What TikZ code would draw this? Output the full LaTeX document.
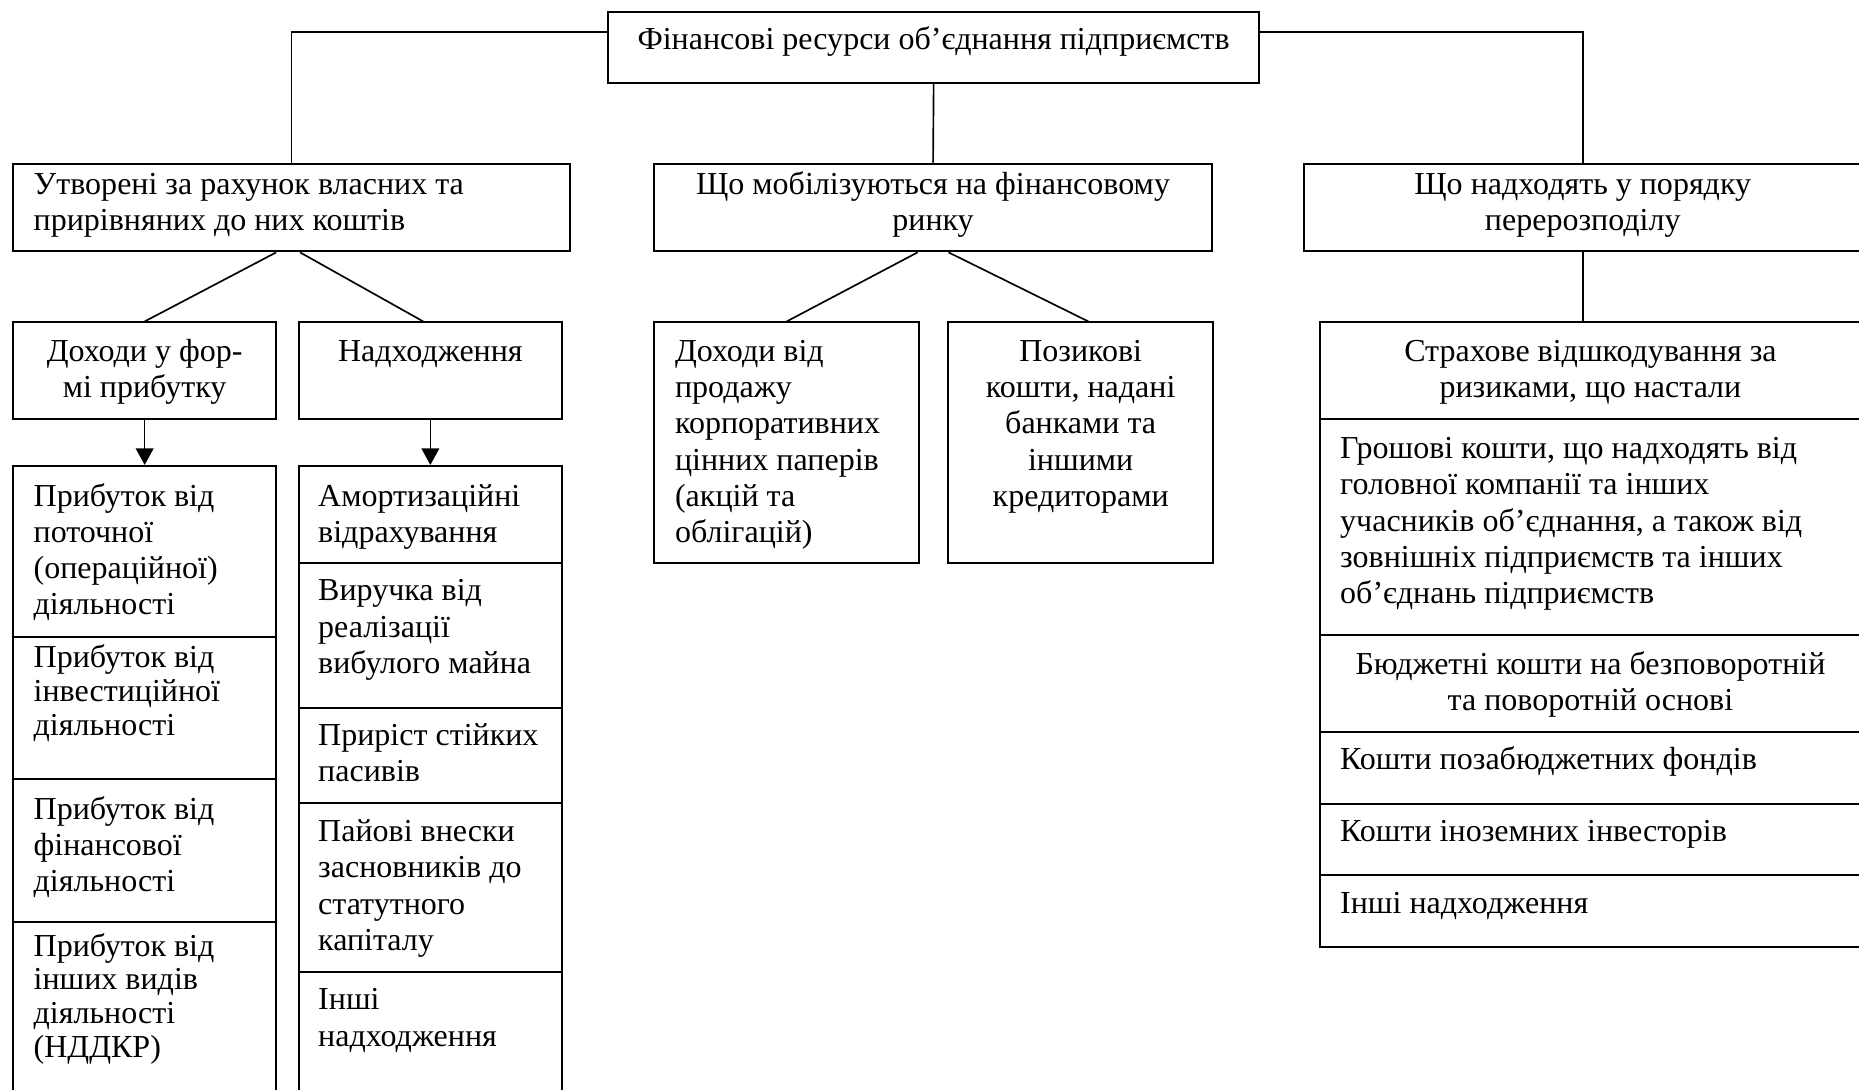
\documentclass[tikz,border=0pt]{standalone}
\usepackage{fontspec}
\setmainfont{Liberation Serif}
\usetikzlibrary{arrows.meta,fit,calc}
\newcommand\myfs{\fontsize{13.5}{15.3}\selectfont}
\newcommand\myfsb{\fontsize{13.5}{14.3}\selectfont}
\begin{document}
\begin{tikzpicture}[x=0.5pt,y=-0.5pt,
  box/.style={draw,line width=0.85pt,inner sep=0pt,fit={#1}},
  ltxt/.style={inner sep=0pt,anchor=north west,align=left,font=\myfs},
  ctxt/.style={inner sep=0pt,anchor=north,align=center,font=\myfs},
  conn/.style={line width=0.7pt},
  arr/.style={line width=0.7pt,-{Triangle[length=7pt,width=7.5pt]}}]
\useasboundingbox (0,0) rectangle (1568,919);
% level 1
\node[box={(513,10) (1062,70)}] (top) {};
\node[ctxt] (ttop) at (787.5,20) {\strut Фінансові ресурси об’єднання підприємств};
% level 2
\node[box={(11,138) (481,212)}] (A) {};
\node[ltxt] (tA) at (28,142) {\strut Утворені за рахунок власних та\\прирівняних до них коштів};
\node[box={(552,138) (1022,212)}] (B) {};
\node[ctxt] (tB) at (787,142) {\strut Що мобілізуються на фінансовому\\ринку};
\node[box={(1100,138) (1570,212)}] (C) {};
\node[ctxt] (tC) at (1335,142) {\strut Що надходять у порядку\\перерозподілу};
% level 3
\node[box={(11,272) (233,353)}] (A1) {};
\node[ctxt] (tA1) at (122,283) {\strut Доходи у фор-\\мі прибутку};
\node[box={(252,272) (474,353)}] (A2) {};
\node[ctxt] (tA2) at (363,283) {\strut Надходження};
\node[box={(552,272) (775,475)}] (B1) {};
\node[ltxt] (tB1) at (569,283) {\strut Доходи від\\продажу\\корпоративних\\цінних паперів\\(акцій та\\облігацій)};
\node[box={(800,272) (1023,475)}] (B2) {};
\node[ctxt] (tB2) at (911.5,283) {\strut Позикові\\кошти, надані\\банками та\\іншими\\кредиторами};
% right column
\node[box={(1113,272) (1570,353)}] (R1) {};
\node[ctxt] (tR1) at (1341.5,283) {\strut Страхове відшкодування за\\ризиками, що настали};
\node[box={(1113,353) (1570,536)}] (R2) {};
\node[ltxt] (tR2) at (1130,365) {\strut Грошові кошти, що надходять від\\головної компанії та інших\\учасників об’єднання, а також від\\зовнішніх підприємств та інших\\об’єднань підприємств};
\node[box={(1113,536) (1570,617)}] (R3) {};
\node[ctxt] (tR3) at (1341.5,547) {\strut Бюджетні кошти на безповоротній\\та поворотній основі};
\node[box={(1113,617) (1570,678)}] (R4) {};
\node[ltxt] (tR4) at (1130,627) {\strut Кошти позабюджетних фондів};
\node[box={(1113,678) (1570,738)}] (R5) {};
\node[ltxt] (tR5) at (1130,688) {\strut Кошти іноземних інвесторів};
\node[box={(1113,738) (1570,799)}] (R6) {};
\node[ltxt] (tR6) at (1130,749) {\strut Інші надходження};
% left column a
\node[box={(11,393) (233,537)}] (a1) {};
\node[ltxt] (ta1) at (28,405) {\strut Прибуток від\\поточної\\(операційної)\\діяльності};
\node[box={(11,537) (233,657)}] (a2) {};
\node[ltxt,font=\myfsb] (ta2) at (28,543) {\strut Прибуток від\\інвестиційної\\діяльності};
\node[box={(11,657) (233,778)}] (a3) {};
\node[ltxt] (ta3) at (28,669) {\strut Прибуток від\\фінансової\\діяльності};
\node[box={(11,778) (233,940)}] (a4) {};
\node[ltxt,font=\myfsb] (ta4) at (28,786) {\strut Прибуток від\\інших видів\\діяльності\\(НДДКР)};
% left column b
\node[box={(252,393) (474,475)}] (b1) {};
\node[ltxt] (tb1) at (268,405) {\strut Амортизаційні\\відрахування};
\node[box={(252,475) (474,597)}] (b2) {};
\node[ltxt] (tb2) at (268,485) {\strut Виручка від\\реалізації\\вибулого майна};
\node[box={(252,597) (474,677)}] (b3) {};
\node[ltxt] (tb3) at (268,607) {\strut Приріст стійких\\пасивів};
\node[box={(252,677) (474,820)}] (b4) {};
\node[ltxt] (tb4) at (268,688) {\strut Пайові внески\\засновників до\\статутного\\капіталу};
\node[box={(252,820) (474,940)}] (b5) {};
\node[ltxt] (tb5) at (268,830) {\strut Інші\\надходження};
% connectors
\draw[conn] ($(top.north west)+(0,18)$) -| (A.north);
\draw[conn] ($(top.north east)+(0,18)$) -| (C.north);
\draw[conn] (top.south) -- (B.north);
\draw[conn] ($(A.south)+(-13,0)$) -- (A1.north);
\draw[conn] ($(A.south)+(7,0)$) -- ($(A2.north)+(-6,0)$);
\draw[conn] ($(B.south)+(-13,0)$) -- (B1.north);
\draw[conn] ($(B.south)+(13,0)$) -- ($(B2.north)+(6.5,0)$);
\draw[conn] (C.south) -- (C.south |- R1.north);
\draw[arr] (A1.south) -- (a1.north);
\draw[arr] (A2.south) -- (b1.north);
\end{tikzpicture}
\end{document}
